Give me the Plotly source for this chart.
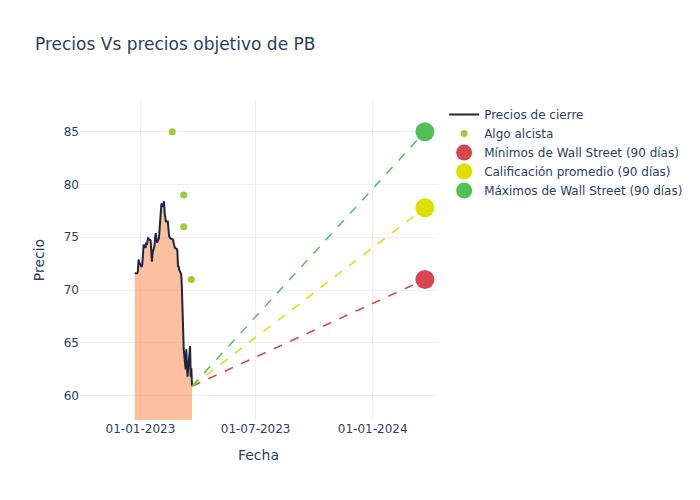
import plotly.graph_objects as go

dates = ["2022-12-23", "2022-12-27", "2022-12-28", "2022-12-29", "2022-12-30",
         "2023-01-03", "2023-01-04", "2023-01-05", "2023-01-06", "2023-01-09",
         "2023-01-10", "2023-01-11", "2023-01-12", "2023-01-13", "2023-01-17",
         "2023-01-18", "2023-01-19", "2023-01-20", "2023-01-23", "2023-01-24",
         "2023-01-25", "2023-01-26", "2023-01-27", "2023-01-30", "2023-01-31",
         "2023-02-01", "2023-02-02", "2023-02-03", "2023-02-06", "2023-02-07",
         "2023-02-08", "2023-02-09", "2023-02-10", "2023-02-13", "2023-02-14",
         "2023-02-15", "2023-02-16", "2023-02-17", "2023-02-21", "2023-02-22",
         "2023-02-23", "2023-02-24", "2023-02-27", "2023-02-28", "2023-03-01",
         "2023-03-02", "2023-03-03", "2023-03-06", "2023-03-07", "2023-03-08",
         "2023-03-09", "2023-03-10", "2023-03-13", "2023-03-14", "2023-03-15",
         "2023-03-16", "2023-03-17", "2023-03-20", "2023-03-21", "2023-03-22",
         "2023-03-23"]
prices = [71.6, 71.6, 71.8, 72.9, 72.6,
          72.2, 72.5, 73.6, 74.3, 74.0,
          74.5, 74.3, 74.6, 74.9, 74.7,
          73.8, 72.7, 73.5, 74.2, 74.9,
          75.4, 74.9, 74.5, 74.9, 75.9,
          76.8, 77.6, 78.2, 77.9, 78.4,
          77.3, 76.6, 76.5, 76.5, 75.6,
          75.1, 75.0, 74.9, 74.8, 74.5,
          74.3, 74.0, 73.9, 73.7, 72.2,
          72.3, 71.9, 71.5, 70.4, 68.5,
          66.0, 64.4, 62.5, 64.4, 63.0,
          61.8, 62.5, 64.7, 61.8, 62.6,
          60.9]

algo_dates = ["2023-02-20", "2023-03-10", "2023-03-10", "2023-03-22"]
algo_values = [85, 79, 76, 71]

target_date = "2024-03-23"
target_low = 71.0
target_avg = 77.8
target_high = 85.0

red = "#d5484f"
yellow = "#dede00"
green = "#50c158"

fig = go.Figure()
fig.add_trace(go.Scatter(
    x=dates, y=prices, mode="lines", showlegend=False, hoverinfo="skip",
    line=dict(width=0),
    fill="tozeroy", fillcolor="rgba(250,140,80,0.55)"))
fig.add_trace(go.Scatter(
    x=dates, y=prices, mode="lines", name="Precios de cierre",
    line=dict(color="#1c2541", width=2)))
fig.add_trace(go.Scatter(
    x=algo_dates, y=algo_values, mode="markers", name="Algo alcista",
    marker=dict(color="#9acd32", size=7)))

targets = [(target_low, red, "Mínimos de Wall Street (90 días)"),
           (target_avg, yellow, "Calificación promedio (90 días)"),
           (target_high, green, "Máximos de Wall Street (90 días)")]

for val, col, nm in targets:
    fig.add_trace(go.Scatter(
        x=[dates[-1], target_date], y=[prices[-1], val], mode="lines",
        line=dict(color=col, width=1.5, dash="dash"), showlegend=False,
        hoverinfo="skip"))

for val, col, nm in targets:
    fig.add_trace(go.Scatter(
        x=[target_date], y=[val], mode="markers", name=nm,
        marker=dict(color=col, size=19)))

fig.update_layout(
    template="plotly_white",
    width=700, height=500,
    font=dict(family="DejaVu Sans"),
    title=dict(text="Precios Vs precios objetivo de PB"),
    xaxis=dict(title="Fecha", range=["2022-09-28", "2024-04-11"],
               tickformat="%d-%m-%Y", dtick="M6", tick0="2023-01-01"),
    yaxis=dict(title="Precio", range=[57.7, 88]),
    legend=dict(font=dict(size=12)),
)
fig.write_html("out.html")
